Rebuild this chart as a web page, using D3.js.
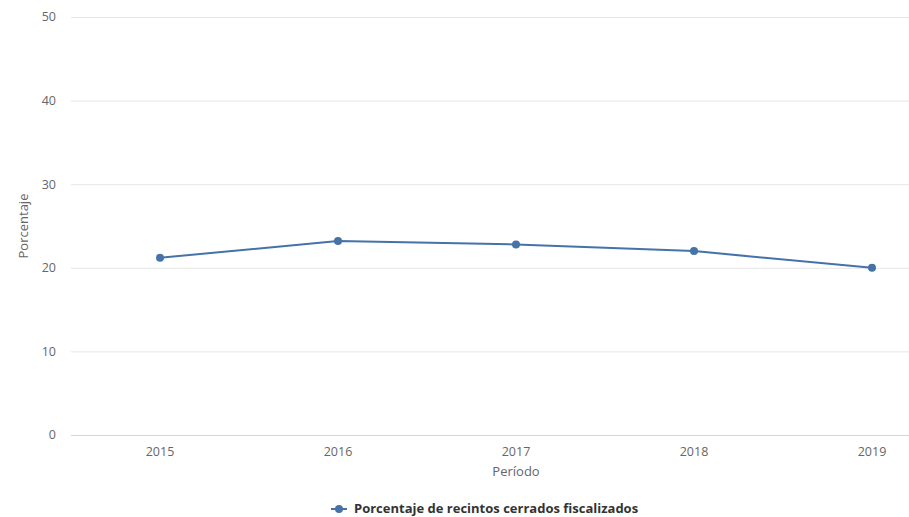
<!DOCTYPE html>
<html><head><meta charset="utf-8">
<script src="https://cdn.jsdelivr.net/npm/d3@7"></script>
<style>
html,body{margin:0;padding:0;background:#fff;overflow:hidden;}
svg{display:block;font-family:"Open Sans",sans-serif;}
</style></head>
<body>
<svg id="chart" width="909" height="517"></svg>
<script>
const categories = ["2015","2016","2017","2018","2019"];
const values = [21.2, 23.2, 22.8, 22.0, 20.0];
const yTicks = [0, 10, 20, 30, 40, 50];
const seriesName = "Porcentaje de recintos cerrados fiscalizados";
const xTitle = "Período";
const yTitle = "Porcentaje";

(function () {
const svg = d3.select("#chart");
const pLeft = 71, pRight = 961, pTop = 17, pBottom = 435;
const color = "#4572a7";

const x = d3.scaleBand().domain(categories).range([pLeft, pRight]);
const y = d3.scaleLinear().domain([0, 50]).range([pBottom, pTop]);

// grid
svg.append("g").selectAll("line").data(yTicks.filter(d => d !== 0)).join("line")
  .attr("x1", pLeft).attr("x2", 909)
  .attr("y1", d => y(d) + 0.5).attr("y2", d => y(d) + 0.5)
  .attr("stroke", "#e6e6e6").attr("stroke-width", 1);

// y labels
svg.append("g").selectAll("text").data(yTicks).join("text")
  .attr("x", 56).attr("y", d => y(d)).attr("dy", "0.35em")
  .attr("text-anchor", "end").attr("font-size", 12.5).attr("fill", "#666")
  .text(d => d);

// x axis line
svg.append("line").attr("x1", pLeft).attr("x2", 909)
  .attr("y1", pBottom + 0.5).attr("y2", pBottom + 0.5)
  .attr("stroke", "#ccd6eb").attr("stroke-width", 1);

// x labels
svg.append("g").selectAll("text").data(categories).join("text")
  .attr("x", d => x(d) + x.bandwidth() / 2).attr("y", 456)
  .attr("text-anchor", "middle").attr("font-size", 12.5).attr("fill", "#666")
  .text(d => d);

// titles
svg.append("text").attr("x", 516).attr("y", 476).attr("text-anchor", "middle")
  .attr("font-size", 13).attr("fill", "#666").text(xTitle);
svg.append("text").attr("transform", `translate(28,${(pTop + pBottom) / 2}) rotate(-90)`)
  .attr("text-anchor", "middle").attr("font-size", 13).attr("fill", "#666").text(yTitle);

// line
const cx = d => x(d) + x.bandwidth() / 2;
const data = categories.map((c, i) => ({c, v: values[i]}));
svg.append("path").datum(data)
  .attr("d", d3.line().x(d => cx(d.c)).y(d => y(d.v)))
  .attr("fill", "none").attr("stroke", color).attr("stroke-width", 2)
  .attr("stroke-linejoin", "round");
svg.append("g").selectAll("circle").data(data).join("circle")
  .attr("cx", d => cx(d.c)).attr("cy", d => y(d.v)).attr("r", 4).attr("fill", color);

// legend
const lg = svg.append("g").attr("transform", "translate(331,509)");
lg.append("line").attr("x1", 0).attr("x2", 16).attr("y1", 0).attr("y2", 0)
  .attr("stroke", color).attr("stroke-width", 2);
lg.append("circle").attr("cx", 8).attr("cy", 0).attr("r", 4).attr("fill", color);
lg.append("text").attr("x", 23).attr("y", 0).attr("dy", "0.3em")
  .attr("font-size", 13).attr("font-weight", "bold").attr("fill", "#333").text(seriesName);
})();
</script>
</body></html>
